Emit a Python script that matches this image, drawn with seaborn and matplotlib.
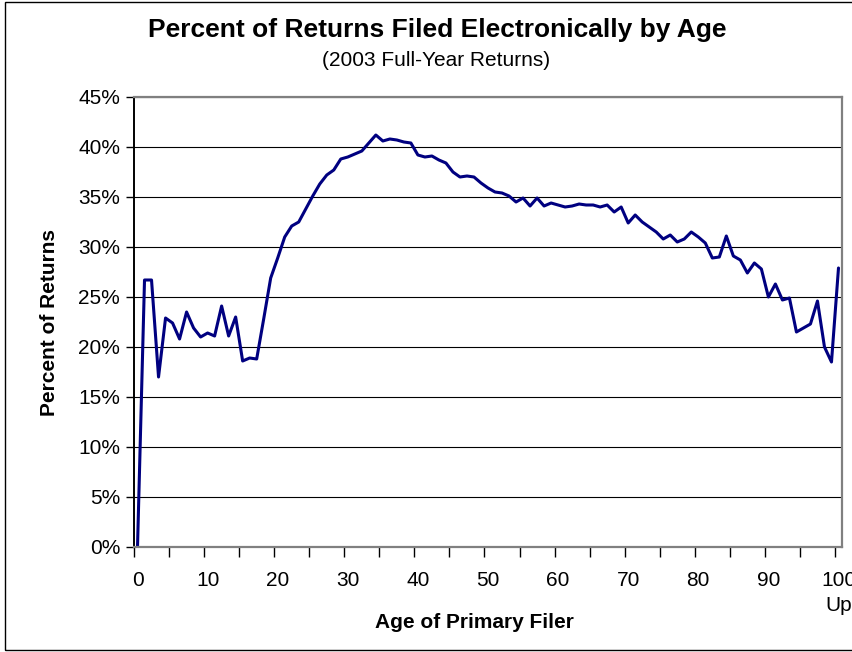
import matplotlib
matplotlib.use("Agg")
import matplotlib.pyplot as plt
import matplotlib.ticker as mticker
from matplotlib.patches import Rectangle
import numpy as np
import pandas as pd
import seaborn as sns

# ---- data ----
ages = list(range(0, 101))
pct_electronic = [
    0.0, 26.7, 26.7, 17.0, 22.9, 22.4, 20.8, 23.5, 21.9, 21.0,   # 0-9
    21.4, 21.1, 24.1, 21.1, 23.0, 18.6, 18.9, 18.8, 22.8, 26.9,  # 10-19
    28.9, 31.0, 32.1, 32.5, 33.8, 35.1, 36.3, 37.2, 37.7, 38.8,  # 20-29
    39.0, 39.3, 39.6, 40.4, 41.2, 40.6, 40.8, 40.7, 40.5, 40.4,  # 30-39
    39.2, 39.0, 39.1, 38.7, 38.4, 37.5, 37.0, 37.1, 37.0, 36.4,  # 40-49
    35.9, 35.5, 35.4, 35.1, 34.5, 34.9, 34.1, 34.9, 34.1, 34.4,  # 50-59
    34.2, 34.0, 34.1, 34.3, 34.2, 34.2, 34.0, 34.2, 33.5, 34.0,  # 60-69
    32.4, 33.2, 32.5, 32.0, 31.5, 30.8, 31.2, 30.5, 30.8, 31.5,  # 70-79
    31.0, 30.4, 28.9, 29.0, 31.1, 29.1, 28.7, 27.4, 28.4, 27.8,  # 80-89
    25.0, 26.3, 24.7, 24.9, 21.5, 21.9, 22.3, 24.6, 20.0, 18.5,  # 90-99
    27.9,                                                        # 100 and up
]
x_tick_values = [0, 10, 20, 30, 40, 50, 60, 70, 80, 90, 100]
x_tick_labels = ["0", "10", "20", "30", "40", "50", "60", "70", "80", "90", "100\nUp"]
y_tick_values = [0, 5, 10, 15, 20, 25, 30, 35, 40, 45]

title = "Percent of Returns Filed Electronically by Age"
subtitle = "(2003 Full-Year Returns)"
x_label = "Age of Primary Filer"
y_label = "Percent of Returns"

df = pd.DataFrame({"age": ages, "pct": [v / 100 for v in pct_electronic]})

# ---- style ----
sns.set_style("white")
plt.rcParams["font.family"] = ["Liberation Sans", "DejaVu Sans"]
plt.rcParams["text.color"] = "black"
plt.rcParams["xtick.color"] = "black"
plt.rcParams["ytick.color"] = "black"

W, H = 852, 652
fig = plt.figure(figsize=(W / 100, H / 100), dpi=100)
L, R, T, B = 134, 842, 97, 547
ax = fig.add_axes([L / W, 1 - B / H, (R - L) / W, (B - T) / H])

sns.lineplot(data=df, x="age", y="pct", ax=ax, color="#000080",
             linewidth=2.2, zorder=3)

ax.set_xlim(-0.5, 100.5)
ax.set_ylim(0, 0.45)

# y axis
ax.set_yticks([v / 100 for v in y_tick_values])
ax.yaxis.set_major_formatter(mticker.PercentFormatter(xmax=1, decimals=0))
ax.yaxis.grid(True, color="black", linewidth=0.8)
ax.xaxis.grid(False)
ax.tick_params(axis="y", which="major", left=True, direction="out",
               length=6, width=1, color="black", labelsize=15, pad=4,
               labelcolor="black")

# x axis: labels at categories, tick marks between categories every 5
ax.set_xticks(x_tick_values)
ax.set_xticklabels(x_tick_labels)
ax.set_xticks([-0.5 + 5 * k for k in range(21)], minor=True)
ax.tick_params(axis="x", which="major", bottom=True, length=0,
               labelsize=15, pad=17, labelcolor="black")
ax.tick_params(axis="x", which="minor", bottom=True, direction="out",
               length=7, width=1, color="black")
for lab in ax.get_xticklabels():
    lab.set_linespacing(1.45)
    lab.set_verticalalignment("top")

ax.set_xlabel("")
ax.set_ylabel("")

for side in ["top", "right"]:
    ax.spines[side].set_visible(True)
    ax.spines[side].set_color("#808080")
    ax.spines[side].set_linewidth(1.6)
ax.spines["left"].set_color("black")
ax.spines["left"].set_linewidth(1.4)
ax.spines["bottom"].set_color("#808080")
ax.spines["bottom"].set_linewidth(1.6)
ax.spines["bottom"].set_zorder(4)

# titles and axis labels
fig.text(437 / W, 1 - 30 / H, title, ha="center", va="center",
         fontsize=19, fontweight="bold", color="black")
fig.text(436 / W, 1 - 60 / H, subtitle, ha="center", va="center",
         fontsize=15, color="black")
fig.text(474 / W, 1 - 623 / H, x_label, ha="center", va="center",
         fontsize=15, fontweight="bold", color="black")
fig.text(50 / W, 1 - 323 / H, y_label, ha="center", va="center",
         fontsize=15, fontweight="bold", rotation=90, color="black")

# chart-area border
fig.patches.append(Rectangle((5 / W, 2 / H), 1.2, (H - 3.5) / H,
                             transform=fig.transFigure, fill=False,
                             edgecolor="black", linewidth=1.0))

fig.savefig("out.png", dpi=100)
